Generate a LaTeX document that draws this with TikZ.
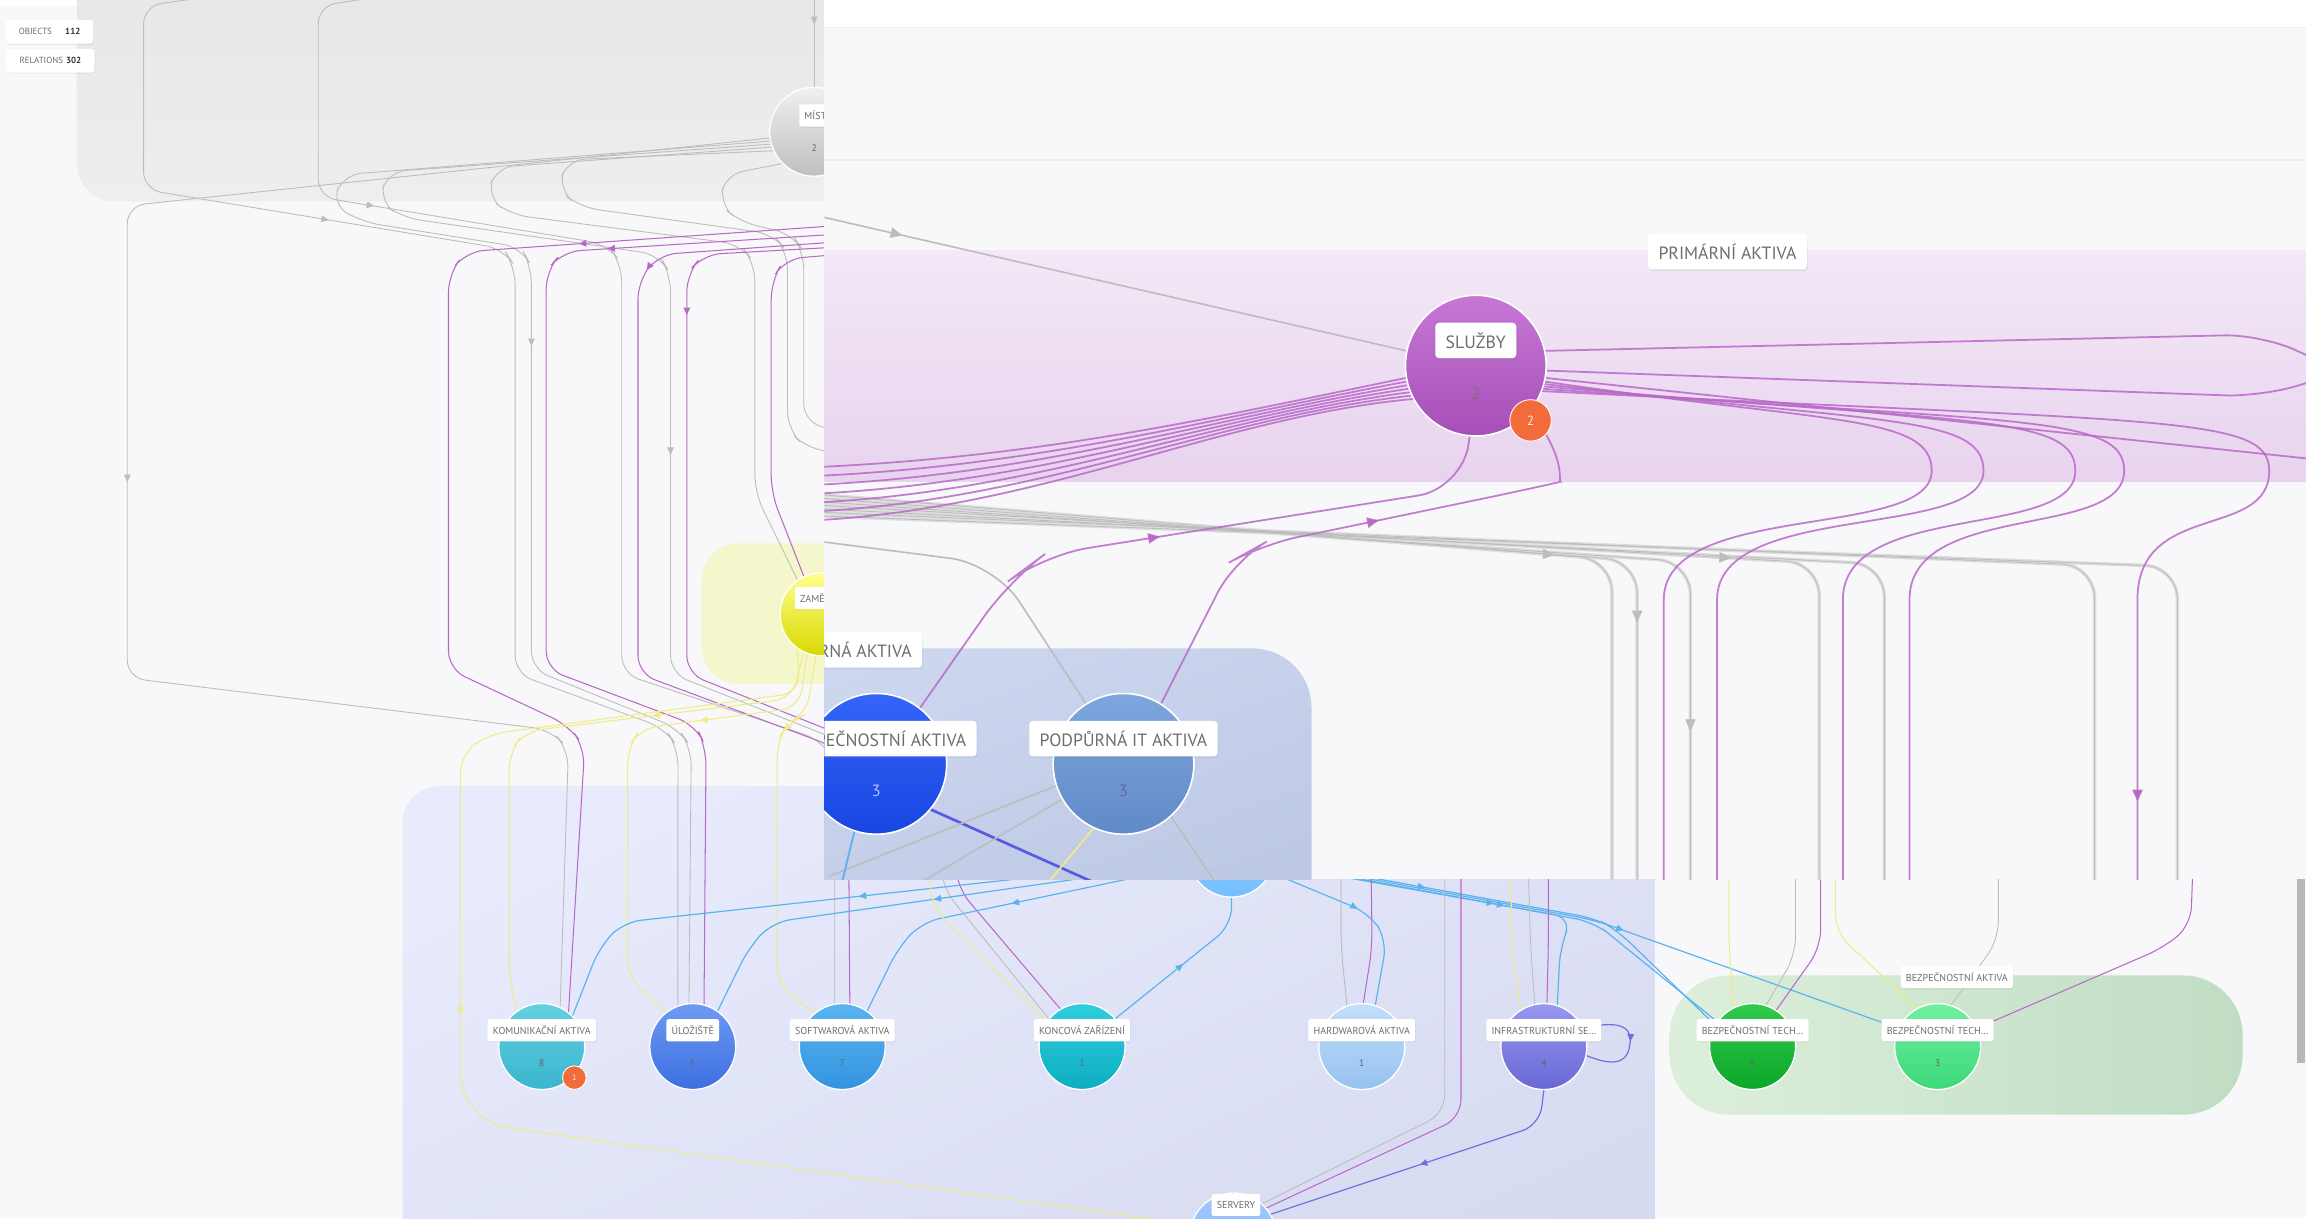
\documentclass[tikz,border=0pt]{standalone}
\usepackage{fontspec}
\setmainfont{PT Sans}
\usetikzlibrary{arrows.meta,decorations.markings,shadows}
\definecolor{bgc}{HTML}{F8F8FA}
\definecolor{grp1}{HTML}{E6E6E7}
\definecolor{grp2}{HTML}{EEEEEF}
\definecolor{yelgrp}{HTML}{F4F7CB}
\definecolor{blu1}{HTML}{E8EBFC}
\definecolor{blu2}{HTML}{D6DAF0}
\definecolor{grn1}{HTML}{DCEFDB}
\definecolor{grn2}{HTML}{C0DDC4}
\definecolor{lgray}{HTML}{BDBDBD}
\definecolor{lpurp}{HTML}{B869C8}
\definecolor{lyel}{HTML}{EFEC86}
\definecolor{lblue}{HTML}{5AB3EE}
\definecolor{lind}{HTML}{6F6FDD}
\definecolor{labtext}{HTML}{6E6E6E}
\definecolor{orng}{HTML}{F26B3A}
\definecolor{band1}{HTML}{F3E8F7}
\definecolor{band2}{HTML}{E8D3EE}
\definecolor{ovb1}{HTML}{CDD7F0}
\definecolor{ovb2}{HTML}{B9C4DF}
\definecolor{faint}{HTML}{EEEEF1}
\tikzset{
 rc/.style={rounded corners=12pt},
 gl/.style={draw=lgray, line width=0.6pt},
 pl/.style={draw=lpurp, line width=0.7pt},
 yl/.style={draw=lyel, line width=0.7pt},
 bl/.style={draw=lblue, line width=0.8pt},
 il/.style={draw=lind, line width=0.8pt},
 gl2/.style={draw=lgray, line width=1.1pt},
 pl2/.style={draw=lpurp, line width=1.2pt, draw opacity=0.85},
 yl2/.style={draw=lyel, line width=1.2pt},
 bl2/.style={draw=lblue, line width=1.2pt},
 dbl/.style={draw=lind!80!blue, line width=1.8pt},
 gbund/.style={draw=black!13, line width=2.4pt},
 marr/.style={postaction={decorate,decoration={markings,mark=at position #1 with {\arrow{Triangle[length=5pt,width=4.5pt]}}}}},
 marrb/.style={postaction={decorate,decoration={markings,mark=at position #1 with {\arrow{Triangle[length=8pt,width=7pt]}}}}},
 nd/.style={circle, inner sep=0pt, minimum size=58pt, draw=white, line width=0.8pt},
 ndb/.style={circle, inner sep=0pt, minimum size=95pt, draw=white, line width=1pt},
 lab/.style={fill=white, rounded corners=1.5pt, inner xsep=3.5pt, inner ysep=0pt, minimum height=15pt, font=\fontsize{6.8}{8}\selectfont, text=labtext, drop shadow={opacity=0.12, shadow xshift=0.4pt, shadow yshift=-0.8pt}},
 labB/.style={fill=white, rounded corners=2.5pt, inner xsep=7pt, inner ysep=0pt, minimum height=24pt, font=\fontsize{12}{14}\selectfont, text=labtext, drop shadow={opacity=0.12, shadow xshift=0.6pt, shadow yshift=-1.2pt}},
 num/.style={font=\fontsize{6.5}{7}\selectfont, text=black!60},
 numB/.style={font=\fontsize{11}{12}\selectfont, text=black!55},
 badge/.style={circle, fill=orng, draw=white, line width=0.6pt, inner sep=0pt, minimum size=#1, text=white!85!orng},
 stat/.style={fill=white, rounded corners=2pt, inner xsep=3pt, minimum height=16pt, font=\fontsize{6}{7}\selectfont, text=labtext, drop shadow={opacity=0.12, shadow xshift=0.4pt, shadow yshift=-0.8pt}},
}
\begin{document}
\begin{tikzpicture}[x=1pt,y=-1pt]
\useasboundingbox (0,0) rectangle (1568,823);
\clip (0,0) rectangle (1568,823);
\fill[bgc] (0,0) rectangle (1568,823);
\fill[white] (0,0) rectangle (1568,4);

% ---------- groups (base layer) ----------
\shade[top color=grp1, bottom color=grp2, rounded corners=25pt] (52,-40) rectangle (620,136);
\fill[yelgrp, rounded corners=25pt] (474,367) rectangle (640,462);
\shade[top color=blu1, bottom color=blu2, shading angle=25, rounded corners=25pt] (272,531) rectangle (1118,900);
\shade[left color=grn1, right color=grn2, rounded corners=40pt] (1128,659) rectangle (1515,753);

% ---------- nodes (base layer) ----------
\node[nd, minimum size=60pt] (misto) at (550,89) {};
\node[nd, minimum size=56pt] (zam) at (555,415) {};
\node[nd] (sit) at (832,577) {};
\node[nd] (serv) at (833,835) {};
\node[nd] (kom) at (366,707) {};
\node[nd] (ulo) at (468,707) {};
\node[nd] (soft) at (569,707) {};
\node[nd] (konc) at (731,707) {};
\node[nd] (hw) at (920,707) {};
\node[nd] (infra) at (1043,707) {};
\node[nd] (bt1) at (1184,707) {};
\node[nd] (bt2) at (1309,707) {};

% ---------- connectors: left area, gray ----------
\coordinate (tA) at (140,-2);
\coordinate (tB) at (255,-2);
\coordinate (tC) at (550,-2);
\coordinate (ovA) at (600,310);
\coordinate (ovB) at (600,300);
\draw[gl, marr=0.3] (tC) -- (misto.north);
\draw[gl, rc, marr=0.5] (misto.188) -- (86,139) -- (86,458) -- (372,493) -- (384,506) -- (kom.65);
\draw[gl, rc, marr=0.28] (tA) -- (97,4) -- (97,128) -- (340,168) -- (348,180) -- (348,455) -- (449,492) -- (458,505) -- (ulo.110);
\draw[gl, rc, marr=0.2] (tB) -- (215,4) -- (215,133) -- (410,165) -- (420,178) -- (420,455) -- (555,500) -- (564,515) -- (soft.100);
\draw[gl, rc, marr=0.5] (misto.192) -- (232,118) -- (224,138) -- (245,150) -- (352,167) -- (359,180) -- (359,452) -- (458,492) -- (467,505) -- (ulo.95);
\draw[gl, rc, marr=0.55] (misto.196) -- (262,116) -- (256,136) -- (272,147) -- (445,172) -- (453,185) -- (453,455) -- (630,525) -- (637,600) -- (konc.140);
\draw[gl, rc] (misto.200) -- (335,113) -- (329,133) -- (345,145) -- (500,165) -- (510,178) -- (510,333) -- (zam.125);
\draw[gl, rc] (misto.205) -- (383,108) -- (377,128) -- (392,140) -- (522,158) -- (532,170) -- (532,290) -- (545,303) -- (ovA);
\draw[gl, rc] (misto.225) -- (490,118) -- (486,138) -- (500,150) -- (535,158) -- (543,170) -- (543,285) -- (ovB);

% ---------- left area, purple ----------
\coordinate (pA) at (600,150);
\coordinate (pB) at (600,156);
\coordinate (pC) at (600,161);
\coordinate (pD) at (600,165);
\coordinate (pE) at (600,169);
\draw[pl, rc, marr=0.24] (pA) -- (315,170) -- (303,185) -- (303,452) -- (384,490) -- (395,505) -- (kom.52);
\draw[pl, rc, marr=0.23] (pB) -- (380,170) -- (369,183) -- (369,452) -- (470,490) -- (477,505) -- (ulo.75);
\draw[pl, rc, marr=0.22] (pC) -- (445,172) -- (431,190) -- (431,455) -- (565,505) -- (573,520) -- (soft.80);
\draw[pl, rc, marr=0.23] (pD) -- (475,172) -- (464,185) -- (464,455) -- (640,525) -- (647,600) -- (konc.120);
\draw[pl, rc] (pE) -- (530,175) -- (521,190) -- (521,333) -- (zam.115);

% ---------- yellow ----------
\draw[yl, rc, marr=0.57] (serv.165) -- (330,760) -- (311,738) -- (311,510) -- (330,496) -- (540,468) -- (zam.235);
\draw[yl, rc, marr=0.3] (zam.245) -- (535,472) -- (355,494) -- (344,508) -- (344,660) -- (kom.125);
\draw[yl, rc, marr=0.28] (zam.250) -- (540,478) -- (433,492) -- (424,505) -- (424,660) -- (ulo.128);
\draw[yl, rc, marr=0.26] (zam.262) -- (545,482) -- (533,488) -- (525,500) -- (525,665) -- (soft.130);

% ---------- light blue ----------
\draw[bl, rc, marr=0.49] (sit.188) -- (421,623) -- (405,640) -- (kom.45);
\draw[bl, rc, marr=0.49] (sit.192) -- (522,623) -- (506,640) -- (ulo.55);
\draw[bl, rc, marr=0.48] (sit.196) -- (623,623) -- (607,640) -- (soft.55);
\draw[bl, rc, marr=0.5] (konc.40) -- (832,625) -- (sit.south);
\draw[bl, rc, marr=0.45] (sit.-25) -- (925,617) -- (937,635) -- (hw.72);
\draw[bl, rc, marr=0.45] (sit.-12) -- (1077,623) -- (1092,635) -- (bt1.145);
\draw[bl, rc, marr=0.55] (sit.-10) -- (1077,621.5) -- (bt2.155);
\draw[bl, rc, marr=0.3] (sit.-8) -- (1078,620.5) -- (1092,628) -- (bt1.150);
\draw[bl, rc, marr=0.6] (sit.-14) -- (1062,620) -- (1054,640) -- (infra.72);

% ---------- indigo ----------
\draw[il, rc, marr=0.5] (infra.south) -- (1040,760) -- (serv.30);
\draw[il, marr=0.5] (infra.25) .. controls (1098,688) and (1103,696) .. (1101,706) .. controls (1099,722) and (1084,718) .. (infra.-12);

% ---------- lines from top into lower area ----------
\coordinate (q1) at (976,570);
\coordinate (q2) at (987,570);
\coordinate (q3) at (906,570);
\coordinate (q4) at (926,570);
\coordinate (q5) at (1021,570);
\coordinate (q6) at (1032,570);
\coordinate (q7) at (1046,570);
\coordinate (q8) at (629,570);
\coordinate (q9) at (1168,570);
\coordinate (q10) at (1213,570);
\coordinate (q11) at (1230,570);
\coordinate (q12) at (1240,570);
\coordinate (q13) at (1350,570);
\coordinate (q14) at (1482,570);
\draw[gl, rc] (q1) -- (976,752) -- (serv.48);
\draw[pl, rc] (q2) -- (987,755) -- (serv.40);
\draw[gl, rc] (q3) -- (906,640) -- (hw.110);
\draw[pl, rc] (q4) -- (927,640) -- (hw.88);
\draw[yl, rc] (q5) -- (1021,640) -- (infra.122);
\draw[gl, rc] (q6) -- (1034,640) -- (infra.102);
\draw[pl, rc] (q7) -- (1046,640) -- (infra.86);
\draw[yl, rc] (q8) -- (629,612) -- (konc.145);
\draw[yl, rc] (q9) -- (1168,640) -- (bt1.115);
\draw[gl, rc] (q10) -- (1213,645) -- (bt1.72);
\draw[pl, rc] (q11) -- (1230,640) -- (bt1.57);
\draw[yl, rc] (q12) -- (1240,630) -- (bt2.118);
\draw[gl, rc] (q13) -- (1350,635) -- (bt2.72);
\draw[pl, rc] (q14) -- (1480,625) -- (1462,640) -- (bt2.25);

% ---------- node fills on top of lines ----------
\node[nd, minimum size=60pt, top color=black!6, bottom color=black!25] at (misto) {};
\node[nd, minimum size=56pt, top color=yellow!45!white, bottom color=yellow!85!black] at (zam) {};
\node[nd, top color=cyan!35!blue!35, bottom color=cyan!55!blue!55] at (sit) {};
\node[nd, top color=cyan!35!blue!35, bottom color=cyan!55!blue!55] at (serv) {};
\node[nd, top color={rgb,255:red,98;green,208;blue,224}, bottom color={rgb,255:red,58;green,182;blue,206}] at (kom) {};
\node[nd, top color={rgb,255:red,110;green,155;blue,243}, bottom color={rgb,255:red,60;green,110;blue,224}] at (ulo) {};
\node[nd, top color={rgb,255:red,90;green,180;blue,242}, bottom color={rgb,255:red,52;green,148;blue,224}] at (soft) {};
\node[nd, top color={rgb,255:red,46;green,206;blue,222}, bottom color={rgb,255:red,14;green,174;blue,194}] at (konc) {};
\node[nd, top color={rgb,255:red,194;green,223;blue,250}, bottom color={rgb,255:red,150;green,194;blue,240}] at (hw) {};
\node[nd, top color={rgb,255:red,152;green,152;blue,240}, bottom color={rgb,255:red,104;green,104;blue,214}] at (infra) {};
\node[nd, top color={rgb,255:red,48;green,202;blue,76}, bottom color={rgb,255:red,12;green,166;blue,40}] at (bt1) {};
\node[nd, top color={rgb,255:red,112;green,240;blue,162}, bottom color={rgb,255:red,60;green,216;blue,120}] at (bt2) {};

% labels and numbers
\node[lab] (mistoL) at (553,78) {MÍSTO};
\node[num] (mistoN) at (550,100) {2};
\node[lab] (zamL) at (562,404) {ZAMĚSTNANCI};
\node[lab] (servL) at (835,814) {SERVERY};
\node[lab] (komL) at (366,696) {KOMUNIKAČNÍ AKTIVA};
\node[num] (komN) at (366,718) {8};
\node[badge=16pt, font=\fontsize{5.5}{6}\selectfont] (komB) at (388,728) {1};
\node[lab] (uloL) at (468,696) {ÚLOŽIŠTĚ};
\node[num] (uloN) at (468,718) {5};
\node[lab] (softL) at (569,696) {SOFTWAROVÁ AKTIVA};
\node[num] (softN) at (569,718) {7};
\node[lab] (koncL) at (731,696) {KONCOVÁ ZAŘÍZENÍ};
\node[num] (koncN) at (731,718) {1};
\node[lab] (hwL) at (920,696) {HARDWAROVÁ AKTIVA};
\node[num] (hwN) at (920,718) {1};
\node[lab] (infraL) at (1043,696) {INFRASTRUKTURNÍ SE…};
\node[num] (infraN) at (1043,718) {4};
\node[lab] (bt1L) at (1184,696) {BEZPEČNOSTNÍ TECH…};
\node[num] (bt1N) at (1184,718) {4};
\node[lab] (bt2L) at (1309,696) {BEZPEČNOSTNÍ TECH…};
\node[num] (bt2N) at (1309,718) {3};
\node[lab] (bgrpL) at (1322,660) {BEZPEČNOSTNÍ AKTIVA};

% stats
\node[stat, minimum width=59pt] (objs) at (33.5,21.5) {OBJECTS\hspace{9pt}{\color{black!80}\bfseries 112}};
\node[stat, minimum width=60pt] (rels) at (34,41) {RELATIONS\hspace{2pt}{\color{black!80}\bfseries 302}};

% ================= overlay (zoomed view) =================
\fill[bgc] (557,0) rectangle (1558,594);
\begin{scope}
\clip (557,0) rectangle (1558,594);
\fill[white] (557,0) rectangle (1558,18);
\draw[faint, line width=1pt] (557,18.5) -- (1558,18.5);
\draw[faint, line width=1pt] (557,108) -- (1558,108);
\shade[top color=band1, bottom color=band2] (557,169) rectangle (1558,325);
\shade[top color=ovb1, bottom color=ovb2, shading angle=20, rounded corners=40pt] (480,438) rectangle (886,700);

\node[ndb] (sluzby) at (997,247) {};
\node[ndb] (bezpa) at (592,516) {};
\node[ndb] (podpit) at (759,516) {};

% gray bundle
\foreach \k/\xv in {0/1089,1/1106,2/1142,3/1229,4/1273,5/1415,6/1471}{
  \draw[gbund, rounded corners=22pt] (540,{333+2.5*\k}) -- (\xv,{378+0.8*\k}) -- (\xv,600);
}
\draw[gl, rounded corners=22pt, marrb=0.67] (540,333) -- (1089,378) -- (1089,600);
\draw[gl, rounded corners=22pt, marrb=0.77] (540,335.5) -- (1106,378.8) -- (1106,600);
\draw[gl, rounded corners=22pt, marrb=0.87] (540,338) -- (1142,379.6) -- (1142,600);
\draw[gl, rounded corners=22pt, marrb=0.7] (540,340.5) -- (1229,380.4) -- (1229,600);
\draw[gl, rounded corners=22pt] (540,343) -- (1273,381.2) -- (1273,600);
\draw[gl, rounded corners=22pt] (540,345.5) -- (1415,382) -- (1415,600);
\draw[gl, rounded corners=22pt] (540,348) -- (1471,382.8) -- (1471,600);

% gray into SLUZBY
\coordinate (oA) at (540,143);
\draw[gl2, marrb=0.17] (oA) -- (sluzby.168);
% gray to PODPURNA IT
\coordinate (oB) at (540,364);
\draw[gl2, rounded corners=30pt] (oB) -- (672,381) -- (podpit.122);

% purple fan to the left
\foreach \a/\y in {190/316,193/322,196/328,199/334,202/340,205/346,208/352}{
  \draw[pl2] (sluzby.\a) .. controls (820,282) and (700,{\y-6}) .. (540,\y);
}
% purple to the right
\draw[pl2, rounded corners=25pt] (sluzby.12) -- (1528,226) -- (1580,250);
\draw[pl2, rounded corners=25pt] (sluzby.-4) -- (1528,268) -- (1580,252);
\draw[pl2] (sluzby.-10) -- (1580,312);
\foreach \xc/\xv/\a in {1305/1124/-13,1340/1160/-15,1402/1245/-17,1435/1290/-19}{
  \draw[pl2] (sluzby.\a) .. controls ({\xc-70},286) and (\xc,280) .. (\xc,318) .. controls (\xc,365) and (\xv,338) .. (\xv,405) -- (\xv,600);
}
\draw[pl2, marrb=0.93] (sluzby.-21) .. controls (1463,286) and (1533,280) .. (1533,318) .. controls (1533,365) and (1444,338) .. (1444,405) -- (1444,600);
% purple to BEZP and PODPURNA
\draw[pl2, rounded corners=30pt, marrb=0.54] (bezpa.52) -- (682,392) -- (705,375) -- (988,330) -- (sluzby.265);
\draw[pl2, rounded corners=25pt, marrb=0.6] (podpit.58) -- (834,378) -- (852,368) -- (1030,331) .. controls (1052,326) and (1060,312) .. (sluzby.-40);

% lines leaving the support group at the bottom
\coordinate (ovC) at (770,610);
\coordinate (ovD) at (560,592);
\coordinate (ovE) at (595,612);
\coordinate (ovF) at (695,612);
\coordinate (ovG) at (832,612);
\coordinate (ovH) at (565,612);
\draw[dbl] (bezpa.-40) -- (ovC);
\draw[gl2] (podpit.198) -- (ovD);
\draw[gl2] (podpit.210) -- (ovE);
\draw[yl2] (podpit.245) -- (ovF);
\draw[gl2] (podpit.-48) -- (ovG);
\draw[bl2] (bezpa.252) -- (ovH);

% circle fills
\node[ndb, top color={rgb,255:red,198;green,120;blue,212}, bottom color={rgb,255:red,166;green,78;blue,184}] at (sluzby) {};
\node[ndb, top color={rgb,255:red,52;green,100;blue,248}, bottom color={rgb,255:red,24;green,70;blue,226}] at (bezpa) {};
\node[ndb, top color={rgb,255:red,126;green,166;blue,222}, bottom color={rgb,255:red,96;green,138;blue,200}] at (podpit) {};

\node[labB] (primL) at (1167,170) {PRIMÁRNÍ AKTIVA};
\node[labB] (sluzL) at (997,230) {SLUŽBY};
\node[numB] (sluzN) at (997,266) {2};
\node[badge=28pt, font=\fontsize{9}{10}\selectfont] (sluzB) at (1034,284) {2};
\node[labB] (podgrpL) at (566,439) {PODPŮRNÁ AKTIVA};
\node[labB] (bezaL) at (592,499) {BEZPEČNOSTNÍ AKTIVA};
\node[numB, text=white!75!blue] (bezaN) at (592,534) {3};
\node[labB] (podL) at (759,499) {PODPŮRNÁ IT AKTIVA};
\node[numB, text=blue!40!black!60] (podN) at (759,534) {3};
\end{scope}

% right edge
\fill[white] (1558,0) rectangle (1568,823);
\fill[black!28] (1552,594) rectangle (1557,718);
\end{tikzpicture}
\end{document}
